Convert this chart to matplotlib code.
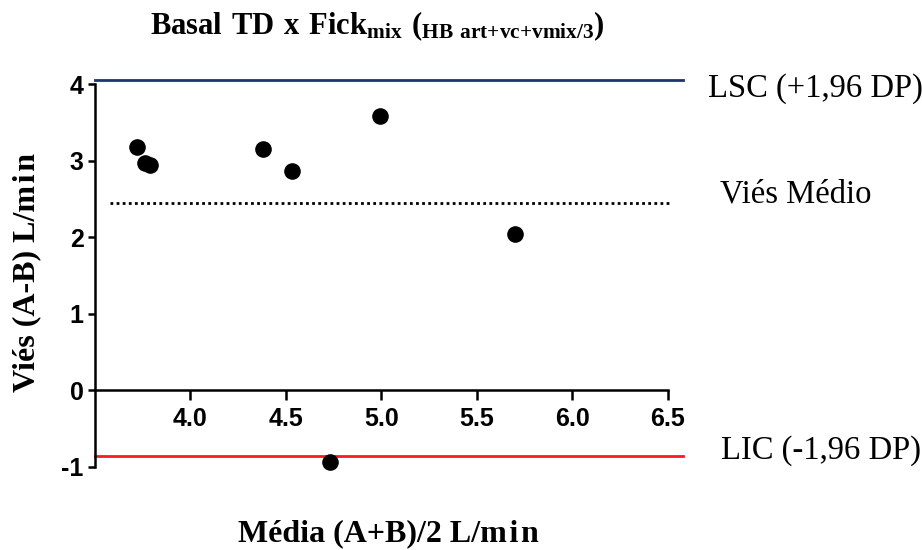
import matplotlib
matplotlib.use("Agg")
import matplotlib.pyplot as plt

# Bland-Altman: mean of the two methods vs. their difference
media = [3.72, 3.76, 3.79, 4.38, 4.53, 4.99, 5.70, 4.73]
vies = [3.18, 2.97, 2.95, 3.15, 2.86, 3.58, 2.04, -0.93]

vies_medio = 2.45
lsc = 4.06
lic = -0.86

xticks = [4.0, 4.5, 5.0, 5.5, 6.0, 6.5]
yticks = [-1, 0, 1, 2, 3, 4]

plt.rcParams['axes.unicode_minus'] = False
plt.rcParams['mathtext.fontset'] = 'custom'
plt.rcParams['mathtext.rm'] = 'Liberation Serif'
plt.rcParams['mathtext.bf'] = 'Liberation Serif:bold'

fig = plt.figure(figsize=(9.22, 5.5), dpi=100)
ax = fig.add_axes([0.103, 0.151, 0.6215, 0.696])

ax.scatter(media, vies, s=120, color='black', zorder=3, clip_on=False)

# limit lines run a little past the right end of the axis
ax.plot([3.5, 6.58], [lsc, lsc], color='#1c3570', lw=2, clip_on=False)
ax.plot([3.5, 6.58], [lic, lic], color='#ff1a1a', lw=2, clip_on=False)
ax.plot([3.58, 6.52], [vies_medio, vies_medio], color='black', lw=2,
        linestyle=(0, (1, 1.2)), clip_on=False)

ax.set_xlim(3.5, 6.5)
ax.set_ylim(-1, 4)
ax.set_xticks(xticks)
ax.set_yticks(yticks)
ax.set_xticklabels(['%.1f' % t for t in xticks])

ax.spines['top'].set_visible(False)
ax.spines['right'].set_visible(False)
ax.spines['bottom'].set_position(('data', 0))
for s in ['left', 'bottom']:
    ax.spines[s].set_linewidth(1.8)
ax.tick_params(axis='x', direction='out', length=7, width=1.8, pad=5)
ax.tick_params(axis='y', direction='out', length=5, width=1.8, pad=3)
for lab in ax.get_xticklabels() + ax.get_yticklabels():
    lab.set_family('Liberation Sans')
    lab.set_fontweight('bold')
    lab.set_fontsize(18)

ax.text(6.71, 3.94, 'LSC (+1,96 DP)', family='Liberation Serif', fontsize=23.5,
        va='center', ha='left', clip_on=False)
ax.text(6.77, 2.56, 'Viés Médio', family='Liberation Serif', fontsize=23.5,
        va='center', ha='left', clip_on=False)
ax.text(6.78, -0.78, 'LIC (-1,96 DP)', family='Liberation Serif', fontsize=23.5,
        va='center', ha='left', clip_on=False)

fig.text(0.409, 0.953,
         r'$\mathbf{Basal\ TD\ x\ Fick_{mix}\ (_{HB\ art{+}vc{+}vmix/3})}$',
         fontsize=22, ha='center', va='center')
fig.text(0.029, 0.505, 'Viés (A-B) L/m\u200ai\u200an', family='Liberation Serif',
         fontweight='bold', fontsize=23, rotation=90, ha='center', va='center')
fig.text(0.421, 0.03, 'Média (A+B)/2 L/m\u200ai\u200an', family='Liberation Serif',
         fontweight='bold', fontsize=23, ha='center', va='center')

fig.savefig('out.png', dpi=100)
